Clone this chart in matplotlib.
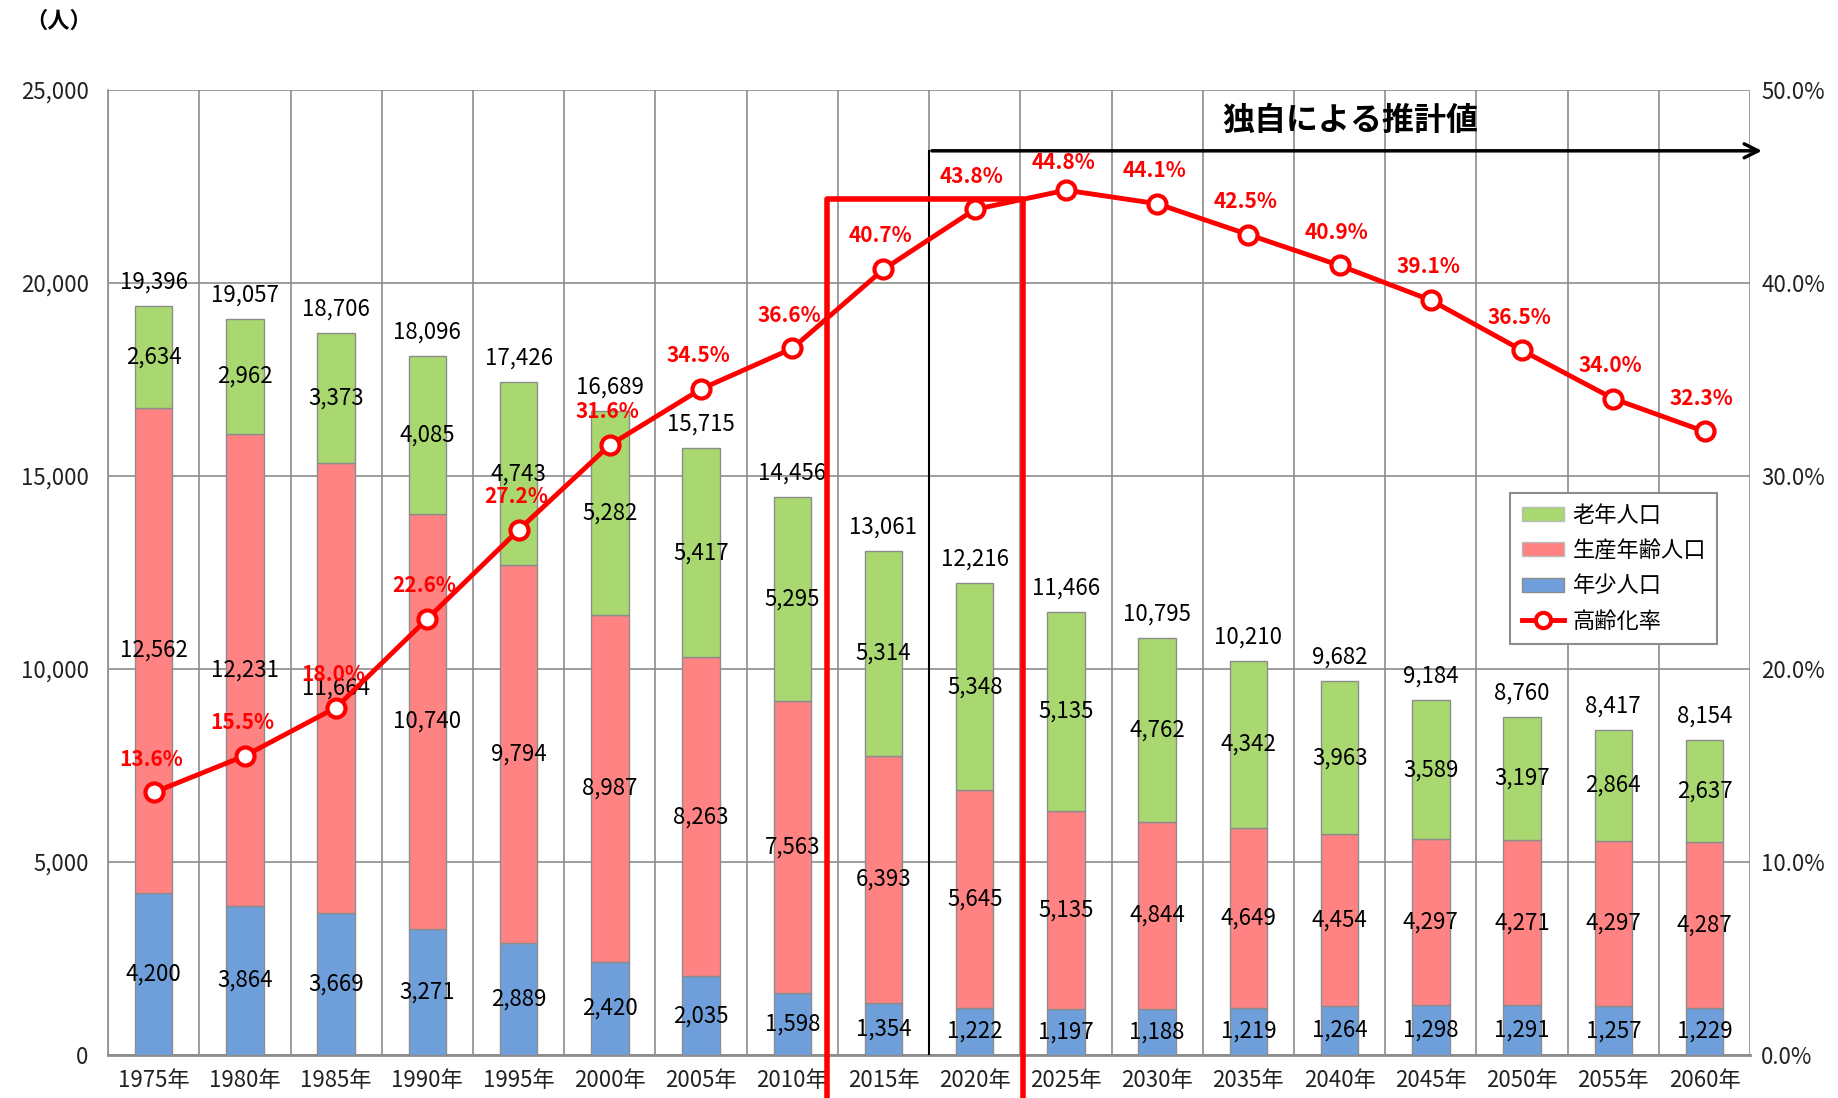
import matplotlib
matplotlib.use("Agg")
import matplotlib.pyplot as plt
from matplotlib.patches import Patch
from matplotlib.lines import Line2D
from matplotlib.ticker import FuncFormatter, MultipleLocator

plt.rcParams['font.family'] = ['Noto Sans CJK JP', 'DejaVu Sans']

# data
years = ['1975年', '1980年', '1985年', '1990年', '1995年', '2000年', '2005年', '2010年', '2015年',
         '2020年', '2025年', '2030年', '2035年', '2040年', '2045年', '2050年', '2055年', '2060年']
young = [4200, 3864, 3669, 3271, 2889, 2420, 2035, 1598, 1354,
         1222, 1197, 1188, 1219, 1264, 1298, 1291, 1257, 1229]
working = [12562, 12231, 11664, 10740, 9794, 8987, 8263, 7563, 6393,
           5645, 5135, 4844, 4649, 4454, 4297, 4271, 4297, 4287]
elderly = [2634, 2962, 3373, 4085, 4743, 5282, 5417, 5295, 5314,
           5348, 5135, 4762, 4342, 3963, 3589, 3197, 2864, 2637]
total = [19396, 19057, 18706, 18096, 17426, 16689, 15715, 14456, 13061,
         12216, 11466, 10795, 10210, 9682, 9184, 8760, 8417, 8154]
rate = [13.6, 15.5, 18.0, 22.6, 27.2, 31.6, 34.5, 36.6, 40.7,
        43.8, 44.8, 44.1, 42.5, 40.9, 39.1, 36.5, 34.0, 32.3]
legend_labels = ['老年人口', '生産年齢人口', '年少人口', '高齢化率']

c_young = '#6F9FDB'
c_work = '#FF8383'
c_old = '#A9D870'
c_edge = '#8C8C8C'
c_rate = '#FF0000'

fig = plt.figure(figsize=(18.38, 10.98), dpi=100)
ax = fig.add_axes([0.0588, 0.0392, 0.8934, 0.879])

x = list(range(len(years)))
bw = 0.41
ax.bar(x, young, bw, color=c_young, edgecolor=c_edge, linewidth=1, zorder=3)
ax.bar(x, working, bw, bottom=young, color=c_work, edgecolor=c_edge, linewidth=1, zorder=3)
bottom2 = [a + b for a, b in zip(young, working)]
ax.bar(x, elderly, bw, bottom=bottom2, color=c_old, edgecolor=c_edge, linewidth=1, zorder=3)

fs = 16
for i in x:
    ax.text(i, young[i] / 2, f'{young[i]:,}', ha='center', va='center', fontsize=fs, zorder=5)
    ax.text(i, young[i] + working[i] / 2, f'{working[i]:,}', ha='center', va='center', fontsize=fs, zorder=5)
    ax.text(i, bottom2[i] + elderly[i] / 2, f'{elderly[i]:,}', ha='center', va='center', fontsize=fs, zorder=5)
    ax.text(i, total[i] + 620, f'{total[i]:,}', ha='center', va='center', fontsize=fs, zorder=5)

ax.set_xlim(-0.5, len(years) - 0.5)
ax.set_ylim(0, 25000)
ax.yaxis.set_major_locator(MultipleLocator(5000))
ax.yaxis.set_major_formatter(FuncFormatter(lambda v, p: f'{int(v):,}'))
ax.set_xticks(x)
ax.set_xticklabels(years, fontsize=fs)
ax.tick_params(axis='both', length=0, labelsize=fs, colors='#222222')
ax.tick_params(axis='x', pad=10)
ax.tick_params(axis='y', pad=14)
ax.grid(axis='y', color='#8C8C8C', linewidth=1.2, zorder=0)
for k in range(len(years) + 1):
    ax.axvline(k - 0.5, color='#8C8C8C', linewidth=1.2, zorder=0)
for s in ['top', 'right']:
    ax.spines[s].set_visible(False)
ax.spines['left'].set_color('#8C8C8C')
ax.spines['left'].set_linewidth(1.2)
ax.spines['bottom'].set_color('#8C8C8C')
ax.spines['bottom'].set_linewidth(2)

# projection marker
ax.plot([8.5, 8.5], [0, 23420], color='black', linewidth=1.5, zorder=4)
ax.annotate('', xy=(17.66, 23420), xytext=(8.5, 23420),
            arrowprops=dict(arrowstyle='->', color='black', lw=2.5, mutation_scale=25),
            annotation_clip=False, zorder=4)
ax.text(13.12, 24200, '独自による推計値', ha='center', va='center', fontsize=23,
        fontweight='bold', zorder=5)

ax2 = ax.twinx()
ax2.set_ylim(0, 50)
ax2.yaxis.set_major_locator(MultipleLocator(10))
ax2.yaxis.set_major_formatter(FuncFormatter(lambda v, p: f'{v:.1f}%'))
ax2.tick_params(axis='y', length=0, labelsize=fs, colors='#222222', pad=8)
for s in ax2.spines.values():
    s.set_visible(False)

ax2.plot(x, rate, color=c_rate, linewidth=3.5, marker='o', markersize=13,
         markerfacecolor='white', markeredgecolor=c_rate, markeredgewidth=3, zorder=6)
for i in x:
    dy = 20 if i == 10 else 24
    ax2.annotate(f'{rate[i]:.1f}%', (i, rate[i]), xytext=(-2, dy), textcoords='offset points',
                 ha='center', va='center', fontsize=15, fontweight='bold', color=c_rate, zorder=7)

# red frame around 2015-2020
ax2.plot([7.38, 7.38, 9.53, 9.53], [-1300, 22175, 22175, -1300], color=c_rate, linewidth=4,
         transform=ax.transData, clip_on=False, zorder=8)

handles = [Patch(facecolor=c_old, edgecolor='#BBBBBB'),
           Patch(facecolor=c_work, edgecolor='#BBBBBB'),
           Patch(facecolor=c_young, edgecolor=c_edge),
           Line2D([0], [0], color=c_rate, linewidth=3.5, marker='o', markersize=11,
                  markerfacecolor='white', markeredgewidth=3)]
leg = ax2.legend(handles, legend_labels,
                 loc='upper left', bbox_to_anchor=(0.854, 0.5824), borderaxespad=0,
                 fontsize=16, fancybox=False, edgecolor='#8C8C8C', framealpha=1,
                 handlelength=1.9, handleheight=0.6, handletextpad=0.4,
                 labelspacing=0.55, borderpad=0.5)
leg.get_frame().set_linewidth(1.5)
leg.set_zorder(9)

fig.text(59 / 1838, 1 - 21 / 1098, '（人）', ha='center', va='center', fontsize=16, fontweight='bold')

fig.savefig('out.png', dpi=100)
